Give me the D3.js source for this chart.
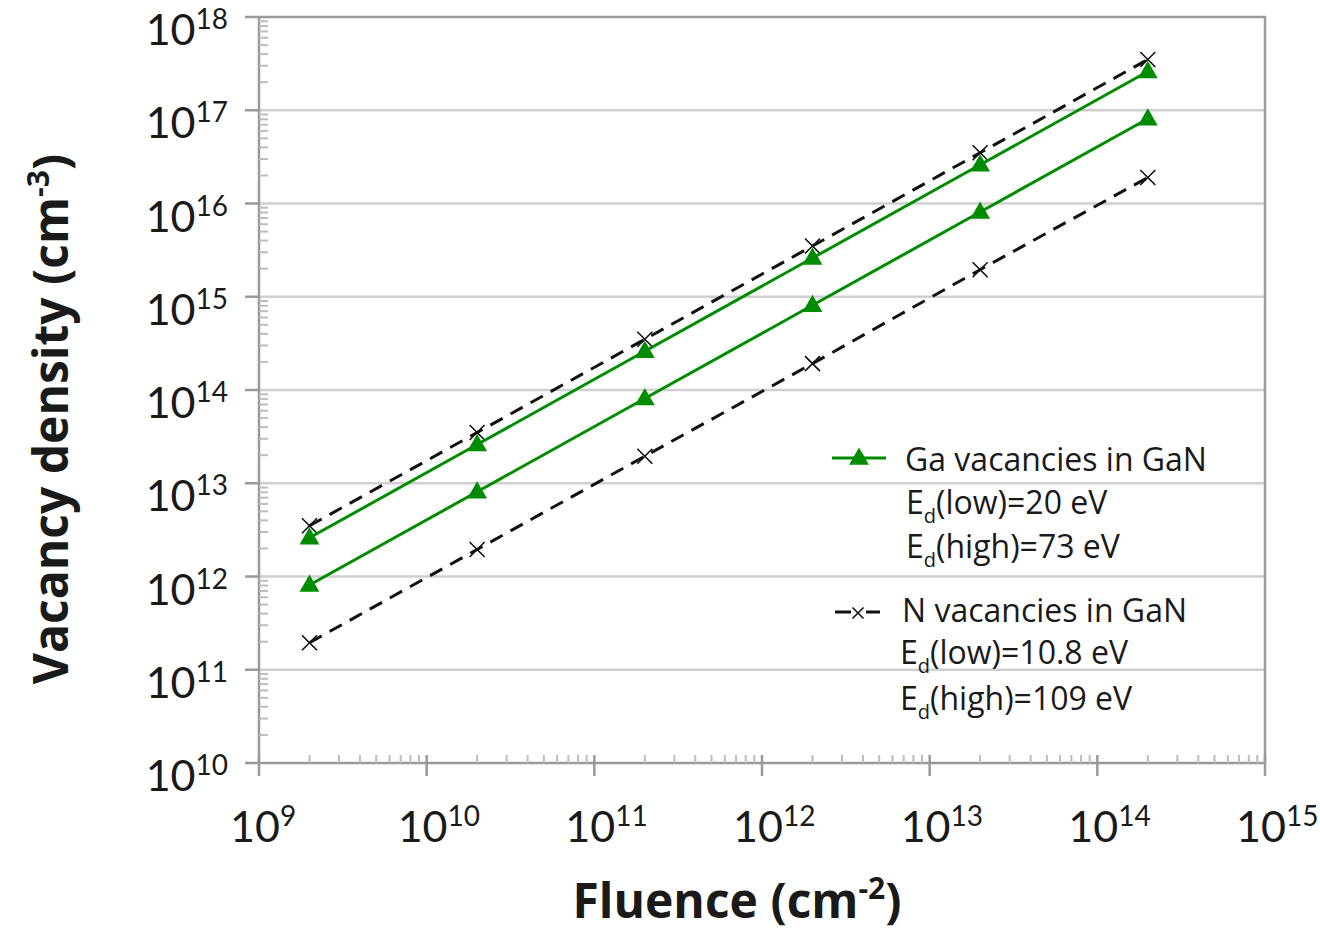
<!DOCTYPE html>
<html>
<head>
<meta charset="utf-8">
<script src="https://cdn.jsdelivr.net/npm/d3@7/dist/d3.min.js"></script>
<style>
  html, body { margin: 0; padding: 0; background: #fff; }
  svg { display: block; }
  text { font-family: Lato, "Open Sans", sans-serif; fill: #1a1a1a; }
  .wide { font-family: "Open Sans", Lato, sans-serif; }
</style>
</head>
<body>
<svg id="chart" width="1320" height="934"></svg>
<script>
// Fluence values (cm^-2) at which vacancy densities were computed
const fluence = [2e9, 2e10, 2e11, 2e12, 2e13, 2e14];

// Ga vacancies in GaN (cm^-3)
const gaLowEd  = [2.6e12, 2.6e13, 2.6e14, 2.6e15, 2.6e16, 2.6e17]; // Ed = 20 eV
const gaHighEd = [8.1e11, 8.1e12, 8.1e13, 8.1e14, 8.1e15, 8.1e16]; // Ed = 73 eV

// N vacancies in GaN (cm^-3)
const nLowEd   = [3.5e12, 3.5e13, 3.5e14, 3.5e15, 3.5e16, 3.5e17]; // Ed = 10.8 eV
const nHighEd  = [1.95e11, 1.95e12, 1.95e13, 1.92e14, 1.95e15, 1.9e16]; // Ed = 109 eV

// Axis decades
const xExponents = [9, 10, 11, 12, 13, 14, 15];
const yExponents = [10, 11, 12, 13, 14, 15, 16, 17, 18];

// Legend text
const legendGa = ["Ga vacancies in GaN", "(low)=20 eV", "(high)=73 eV"];
const legendN  = ["N vacancies in GaN", "(low)=10.8 eV", "(high)=109 eV"];

const svg = d3.select("#chart");

const x = d3.scaleLog().domain([1e9, 1e15]).range([259, 1265]);
const y = d3.scaleLog().domain([1e10, 1e18]).range([763, 17]);

const GREEN = "#008c00";
const AXIS = "#9a9a9a";
const GRID = "#cfcfcf";

// horizontal gridlines at each decade
svg.append("g").selectAll("line")
  .data(yExponents.slice(1, -1))
  .join("line")
  .attr("x1", x(1e9)).attr("x2", x(1e15))
  .attr("y1", d => y(Math.pow(10, d))).attr("y2", d => y(Math.pow(10, d)))
  .attr("stroke", GRID).attr("stroke-width", 2.5);

// plot frame (top and right)
svg.append("path")
  .attr("d", `M${x(1e9)},${y(1e18)}H${x(1e15)}V${y(1e10)}`)
  .attr("fill", "none").attr("stroke", AXIS).attr("stroke-width", 2.5);

// minor tick values within each decade
function minors(exps) {
  const out = [];
  for (let i = 0; i < exps.length - 1; i++) {
    for (let m = 2; m <= 9; m++) out.push(m * Math.pow(10, exps[i]));
  }
  return out;
}

// y axis
const yAxis = svg.append("g");
yAxis.append("line")
  .attr("x1", x(1e9)).attr("x2", x(1e9))
  .attr("y1", y(1e10)).attr("y2", y(1e18))
  .attr("stroke", AXIS).attr("stroke-width", 2.5);
yAxis.selectAll("line.major")
  .data(yExponents).join("line").attr("class", "major")
  .attr("x1", x(1e9) - 14).attr("x2", x(1e9))
  .attr("y1", d => y(Math.pow(10, d))).attr("y2", d => y(Math.pow(10, d)))
  .attr("stroke", AXIS).attr("stroke-width", 2.5);
yAxis.selectAll("line.minor")
  .data(minors(yExponents)).join("line").attr("class", "minor")
  .attr("x1", x(1e9)).attr("x2", x(1e9) + 9)
  .attr("y1", d => y(d)).attr("y2", d => y(d))
  .attr("stroke", "#bdbdbd").attr("stroke-width", 2);

const yLab = yAxis.selectAll("text.tick")
  .data(yExponents).join("text").attr("class", "tick")
  .attr("x", 228).attr("y", d => y(Math.pow(10, d)) + 28)
  .attr("text-anchor", "end");
yLab.append("tspan").attr("font-size", 43).text("10");
yLab.append("tspan").attr("font-size", 28).attr("dy", -16).text(d => d);

// x axis
const xAxis = svg.append("g");
xAxis.append("line")
  .attr("x1", x(1e9)).attr("x2", x(1e15))
  .attr("y1", y(1e10)).attr("y2", y(1e10))
  .attr("stroke", AXIS).attr("stroke-width", 2.5);
xAxis.selectAll("line.major")
  .data(xExponents).join("line").attr("class", "major")
  .attr("x1", d => x(Math.pow(10, d))).attr("x2", d => x(Math.pow(10, d)))
  .attr("y1", y(1e10) - 8).attr("y2", y(1e10) + 13)
  .attr("stroke", AXIS).attr("stroke-width", 2.5);
xAxis.selectAll("line.minor")
  .data(minors(xExponents)).join("line").attr("class", "minor")
  .attr("x1", d => x(d)).attr("x2", d => x(d))
  .attr("y1", y(1e10) - 8).attr("y2", y(1e10))
  .attr("stroke", "#bdbdbd").attr("stroke-width", 2);

const xLab = xAxis.selectAll("text.tick")
  .data(xExponents).join("text").attr("class", "tick")
  .attr("x", d => x(Math.pow(10, d)) - 29).attr("y", 842)
  .attr("text-anchor", "start");
xLab.append("tspan").attr("font-size", 43).text("10");
xLab.append("tspan").attr("font-size", 28).attr("dy", -16).text(d => d);

// axis titles
svg.append("text").attr("class", "wide")
  .attr("x", 737).attr("y", 918)
  .attr("text-anchor", "middle").attr("font-weight", "bold").attr("font-size", 48)
  .call(t => {
    t.append("tspan").text("Fluence (cm");
    t.append("tspan").attr("font-size", 30).attr("dy", -19).text("-2");
    t.append("tspan").attr("dy", 19).text(")");
  });

svg.append("text").attr("class", "wide")
  .attr("transform", "translate(68,419) rotate(-90)")
  .attr("text-anchor", "middle").attr("font-weight", "bold").attr("font-size", 48)
  .call(t => {
    t.append("tspan").text("Vacancy density (cm");
    t.append("tspan").attr("font-size", 30).attr("dy", -19).text("-3");
    t.append("tspan").attr("dy", 19).text(")");
  });

// series
const line = d3.line().x(d => x(d[0])).y(d => y(d[1]));
const tri = d3.symbol().type(d3.symbolTriangle).size(170);

function drawGa(values) {
  const pts = fluence.map((f, i) => [f, values[i]]);
  svg.append("path").datum(pts).attr("d", line)
    .attr("fill", "none").attr("stroke", GREEN).attr("stroke-width", 3);
  svg.append("g").selectAll("path").data(pts).join("path")
    .attr("d", tri)
    .attr("transform", d => `translate(${x(d[0])},${y(d[1]) + 1})`)
    .attr("fill", GREEN);
}

function cross(g, cx, cy, r) {
  g.append("path")
    .attr("d", `M${cx - r},${cy - r}L${cx + r},${cy + r}M${cx - r},${cy + r}L${cx + r},${cy - r}`)
    .attr("stroke", "#111").attr("stroke-width", 1.6).attr("fill", "none");
}

function drawN(values) {
  const pts = fluence.map((f, i) => [f, values[i]]);
  svg.append("path").datum(pts).attr("d", line)
    .attr("fill", "none").attr("stroke", "#111").attr("stroke-width", 3)
    .attr("stroke-dasharray", "14,9");
  const g = svg.append("g");
  pts.forEach(d => cross(g, x(d[0]), y(d[1]), 7.5));
}

drawN(nLowEd);
drawN(nHighEd);
drawGa(gaLowEd);
drawGa(gaHighEd);

// legend
const lg = svg.append("g");
lg.append("line").attr("x1", 832).attr("x2", 886).attr("y1", 458).attr("y2", 458)
  .attr("stroke", GREEN).attr("stroke-width", 3);
lg.append("path").attr("d", tri).attr("transform", "translate(859,459)").attr("fill", GREEN);

lg.append("line").attr("x1", 835).attr("x2", 851).attr("y1", 612).attr("y2", 612)
  .attr("stroke", "#111").attr("stroke-width", 3);
lg.append("line").attr("x1", 866).attr("x2", 880).attr("y1", 612).attr("y2", 612)
  .attr("stroke", "#111").attr("stroke-width", 3);
cross(lg, 858, 613, 5.5);

function legendBlock(lines, x0, ys, x1) {
  lg.append("text").attr("class", "wide").attr("x", x0).attr("y", ys[0]).attr("font-size", 32).text(lines[0]);
  [1, 2].forEach(i => {
    const t = lg.append("text").attr("class", "wide").attr("x", x1).attr("y", ys[i]).attr("font-size", 32);
    t.append("tspan").text("E");
    t.append("tspan").attr("font-size", 20).attr("dy", 9).text("d");
    t.append("tspan").attr("dy", -9).text(lines[i]);
  });
}
legendBlock(legendGa, 905, [471, 514, 558], 906);
legendBlock(legendN, 902, [622, 664, 710], 900);
</script>
</body>
</html>
